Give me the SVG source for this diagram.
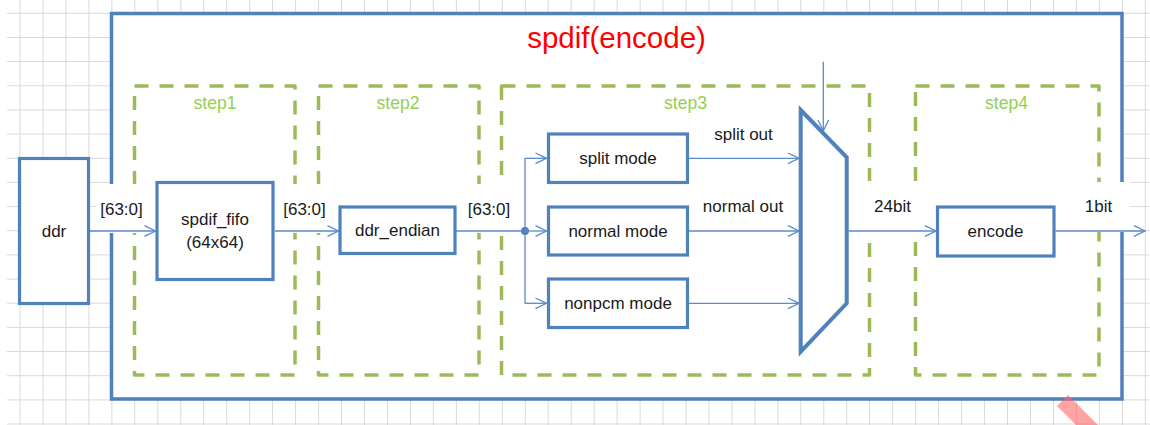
<svg xmlns="http://www.w3.org/2000/svg" width="1150" height="425" viewBox="0 0 1150 425">
<style>
.grid{stroke:#d9d9d9;stroke-width:1;fill:none}
.frame{fill:#ffffff;stroke:#4f81bd;stroke-width:3.5}
.step{fill:none;stroke:#9bbb59;stroke-width:3.5;stroke-dasharray:14 11;stroke-linejoin:round}
.steplbl{font-family:"Liberation Sans",Arial,sans-serif;font-size:17.5px;fill:#92d050;text-anchor:middle}
.box{fill:#ffffff;stroke:#4f81bd;stroke-width:3.2}
.mux{fill:#ffffff;stroke:#4f81bd;stroke-width:4;stroke-linejoin:miter}
.t{font-family:"Liberation Sans",Arial,sans-serif;font-size:17px;fill:#1a1a1a;text-anchor:middle}
.wire{fill:none;stroke:#5b8bc9;stroke-width:1.3}
.mask{fill:#ffffff;stroke:none}
</style>
<defs>
<marker id="arr" markerUnits="userSpaceOnUse" markerWidth="16" markerHeight="14" viewBox="-13 -7 16 14" refX="0" refY="0" orient="auto">
<path d="M-11,-5.3 L0,0 L-11,5.3" fill="none" stroke="#5b8bc9" stroke-width="1.3"/>
</marker>
</defs>
<rect width="1150" height="425" fill="#ffffff"/>
<path class="grid" d="M20,0V425M43,0V425M65.9,0V425M88.9,0V425M111.9,0V425M134.8,0V425M157.8,0V425M180.8,0V425M203.7,0V425M226.7,0V425M249.7,0V425M272.6,0V425M295.6,0V425M318.6,0V425M341.5,0V425M364.5,0V425M387.5,0V425M410.4,0V425M433.4,0V425M456.4,0V425M479.3,0V425M502.3,0V425M525.3,0V425M548.2,0V425M571.2,0V425M594.2,0V425M617.1,0V425M640.1,0V425M663,0V425M686,0V425M709,0V425M731.9,0V425M754.9,0V425M777.9,0V425M800.8,0V425M823.8,0V425M846.8,0V425M869.7,0V425M892.7,0V425M915.7,0V425M938.6,0V425M961.6,0V425M984.6,0V425M1007.5,0V425M1030.5,0V425M1053.5,0V425M1076.4,0V425M1099.4,0V425M1122.4,0V425M1145.3,0V425M7,13.3H1150M7,37.5H1150M7,61.6H1150M7,85.8H1150M7,109.9H1150M7,134.1H1150M7,158.3H1150M7,182.4H1150M7,206.6H1150M7,230.7H1150M7,254.9H1150M7,279.1H1150M7,303.2H1150M7,327.4H1150M7,351.5H1150M7,375.7H1150M7,399.9H1150M7,424H1150"/>
<g id="frame">
<rect class="frame" x="111.5" y="13.5" width="1010.5" height="385.5"/>
<text x="616.5" y="48" font-family="'Liberation Sans',Arial,sans-serif" font-size="29.5" fill="#ff0000" text-anchor="middle">spdif(encode)</text>
</g>
<g id="step1"><rect class="step" x="134.5" y="86" width="160.5" height="289"/><text class="steplbl" x="215" y="109">step1</text></g>
<g id="step2"><rect class="step" x="318.5" y="86" width="160.5" height="289"/><text class="steplbl" x="398" y="109">step2</text></g>
<g id="step3"><rect class="step" x="501.5" y="86" width="368" height="289"/><text class="steplbl" x="685.5" y="109">step3</text></g>
<g id="step4"><rect class="step" x="915.5" y="86" width="183.5" height="289"/><text class="steplbl" x="1006.5" y="109">step4</text></g>
<g id="labels">
<rect class="mask" x="96" y="184" width="50" height="49"/>
<rect class="mask" x="280" y="184" width="50" height="49"/>
<rect class="mask" x="465" y="184" width="48" height="49"/>
<rect class="mask" x="860" y="181" width="64" height="54"/>
<rect class="mask" x="1080" y="182" width="50" height="50"/>
<text class="t" x="121.5" y="215">[63:0]</text>
<text class="t" x="304.5" y="215">[63:0]</text>
<text class="t" x="489" y="215">[63:0]</text>
<text class="t" x="743.5" y="140">split out</text>
<text class="t" x="743" y="212">normal out</text>
<text class="t" x="892.5" y="212">24bit</text>
<text class="t" x="1098.5" y="212">1bit</text>
</g>
<g id="connectors">
<path class="wire" marker-end="url(#arr)" d="M89,231H155.5"/>
<path class="wire" marker-end="url(#arr)" d="M275,231H338.5"/>
<path class="wire" d="M456,231H525M525,158V303.5"/>
<circle cx="525" cy="231" r="4" fill="#4f81bd"/>
<path class="wire" marker-end="url(#arr)" d="M525,158.3H546.5"/>
<path class="wire" marker-end="url(#arr)" d="M525,231H546.5"/>
<path class="wire" marker-end="url(#arr)" d="M525,303.3H546.5"/>
<path class="wire" marker-end="url(#arr)" d="M689,158.3H799"/>
<path class="wire" marker-end="url(#arr)" d="M689,231H799"/>
<path class="wire" marker-end="url(#arr)" d="M689,303.3H799"/>
<path class="wire" marker-end="url(#arr)" d="M823.3,61.7V131"/>
<path class="wire" marker-end="url(#arr)" d="M848.5,231H936"/>
<path class="wire" marker-end="url(#arr)" d="M1055.5,231H1145"/>
</g>
<g id="ddr"><rect class="box" x="19.5" y="158.5" width="69" height="145"/><text class="t" x="54" y="237">ddr</text></g>
<g id="spdif_fifo"><rect class="box" x="157" y="182.5" width="116" height="97"/><text class="t" x="215" y="225">spdif_fifo</text><text class="t" x="215" y="248">(64x64)</text></g>
<g id="ddr_endian"><rect class="box" x="340" y="207" width="115" height="46.5"/><text class="t" x="397.5" y="236">ddr_endian</text></g>
<g id="split_mode"><rect class="box" x="548.5" y="134" width="139" height="48.5"/><text class="t" x="618" y="163.5">split mode</text></g>
<g id="normal_mode"><rect class="box" x="548.5" y="207" width="139" height="48"/><text class="t" x="618" y="236.5">normal mode</text></g>
<g id="nonpcm_mode"><rect class="box" x="548.5" y="279" width="139" height="48.5"/><text class="t" x="618" y="309">nonpcm mode</text></g>
<g id="mux"><polygon class="mux" points="800.7,110 846.7,157.3 846.7,303.3 800.7,351.7"/></g>
<g id="encode"><rect class="box" x="937.5" y="207" width="116.5" height="49"/><text class="t" x="995.5" y="236.5">encode</text></g>
<polygon points="1068,395 1100,427 1078,427 1057,406" fill="#ff6666" fill-opacity="0.6"/>
</svg>
